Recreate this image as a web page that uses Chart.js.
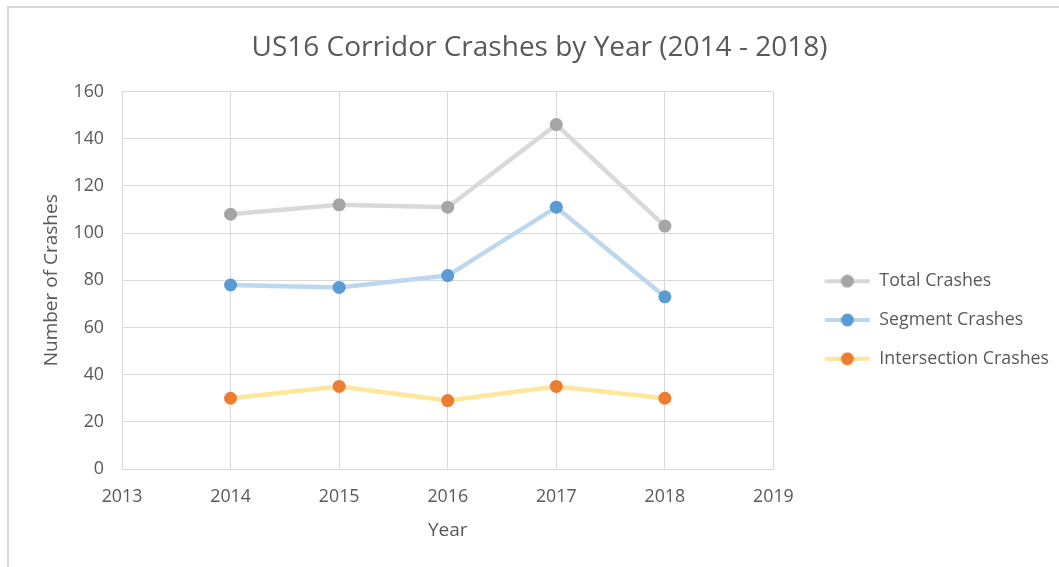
<!DOCTYPE html>
<html>
<head>
<meta charset="utf-8">
<script src="https://cdn.jsdelivr.net/npm/chart.js@4.4.1/dist/chart.umd.min.js"></script>
<style>
  html, body { margin: 0; padding: 0; background: #ffffff; }
  #wrap { position: relative; width: 1059px; height: 567px; overflow: hidden; }
  #frame { position: absolute; left: 7px; top: 6px; width: 1100px; height: 600px;
           border-top: 2px solid #d9d9d9; border-left: 2px solid #d9d9d9; pointer-events: none; }
  canvas { position: absolute; left: 0; top: 0; }
</style>
</head>
<body>
<div id="wrap">
  <canvas id="c" width="1059" height="567"></canvas>
  <div id="frame"></div>
</div>
<script>
const years = [2014, 2015, 2016, 2017, 2018];
const totalCrashes = [108, 112, 111, 146, 103];
const segmentCrashes = [78, 77, 82, 111, 73];
const intersectionCrashes = [30, 35, 29, 35, 30];
const seriesNames = ['Total Crashes', 'Segment Crashes', 'Intersection Crashes'];
const titleText = 'US16 Corridor Crashes by Year (2014 - 2018)';
const xTitle = 'Year';
const yTitle = 'Number of Crashes';

const FONT = "'Open Sans', 'Noto Sans', sans-serif";
const TEXT = '#595959';
const FS = 17.8;
const ICON_W = 76;

function legendIcon(lineColor, dotColor) {
  const cv = document.createElement('canvas');
  cv.width = ICON_W; cv.height = 14;
  const g = cv.getContext('2d');
  g.strokeStyle = lineColor; g.lineWidth = 4; g.lineCap = 'round';
  g.beginPath(); g.moveTo(ICON_W - 44, 7); g.lineTo(ICON_W - 2, 7); g.stroke();
  g.fillStyle = dotColor;
  g.beginPath(); g.arc(ICON_W - 23, 7, 6.5, 0, Math.PI * 2); g.fill();
  return cv;
}

const styles = [
  { line: '#d9d9d9', dot: '#a5a5a5' },
  { line: '#bdd7ee', dot: '#5b9bd5' },
  { line: '#ffe699', dot: '#ed7d31' }
];
const seriesData = [totalCrashes, segmentCrashes, intersectionCrashes];

const datasets = seriesData.map((vals, i) => ({
  label: seriesNames[i],
  data: years.map((y, j) => ({ x: y, y: vals[j] })),
  borderColor: styles[i].line,
  backgroundColor: styles[i].dot,
  pointBackgroundColor: styles[i].dot,
  pointBorderColor: styles[i].dot,
  pointStyle: 'circle',
  pointRadius: 6.5,
  pointBorderWidth: 0,
  borderWidth: 4.5,
  tension: 0
}));

new Chart(document.getElementById('c'), {
  type: 'line',
  data: { datasets },
  options: {
    responsive: false,
    animation: false,
    layout: { padding: { left: 20, right: 0, top: 0, bottom: 0 } },
    plugins: {
      title: {
        display: true, text: titleText, color: TEXT,
        font: { family: FONT, size: 28, weight: 'normal' },
        padding: { top: 31, bottom: 27 }
      },
      legend: {
        position: 'right',
        maxWidth: 400,
        title: { display: true, text: ' ', font: { size: 10 }, padding: { top: 61, bottom: 0 } },
        labels: {
          color: TEXT,
          font: { family: FONT, size: FS },
          usePointStyle: true,
          pointStyleWidth: ICON_W,
          padding: 21,
          generateLabels(chart) {
            return chart.data.datasets.map((ds, i) => ({
              text: ds.label, fontColor: TEXT,
              pointStyle: legendIcon(styles[i].line, styles[i].dot),
              datasetIndex: i, hidden: false, lineWidth: 0,
              strokeStyle: 'rgba(0,0,0,0)', fillStyle: 'rgba(0,0,0,0)'
            }));
          }
        }
      },
      tooltip: { enabled: false }
    },
    scales: {
      x: {
        type: 'linear', min: 2013, max: 2019,
        afterFit: s => { s.height = 98; },
        ticks: { stepSize: 1, color: TEXT, font: { family: FONT, size: FS }, padding: 17,
                 callback: v => String(v) },
        grid: { color: '#d9d9d9', drawTicks: false },
        border: { color: '#d9d9d9' },
        title: { display: true, text: xTitle, color: TEXT, font: { family: FONT, size: 19 }, padding: { top: 2, bottom: 25 } }
      },
      y: {
        min: 0, max: 160,
        afterFit: s => { s.width = 102; },
        ticks: { stepSize: 20, color: TEXT, font: { family: FONT, size: FS }, padding: 18 },
        grid: { color: '#d9d9d9', drawTicks: false },
        border: { color: '#d9d9d9' },
        title: { display: true, text: yTitle, color: TEXT, font: { family: FONT, size: 19 }, padding: { top: 20, bottom: 4 } }
      }
    }
  }
});
</script>
</body>
</html>
